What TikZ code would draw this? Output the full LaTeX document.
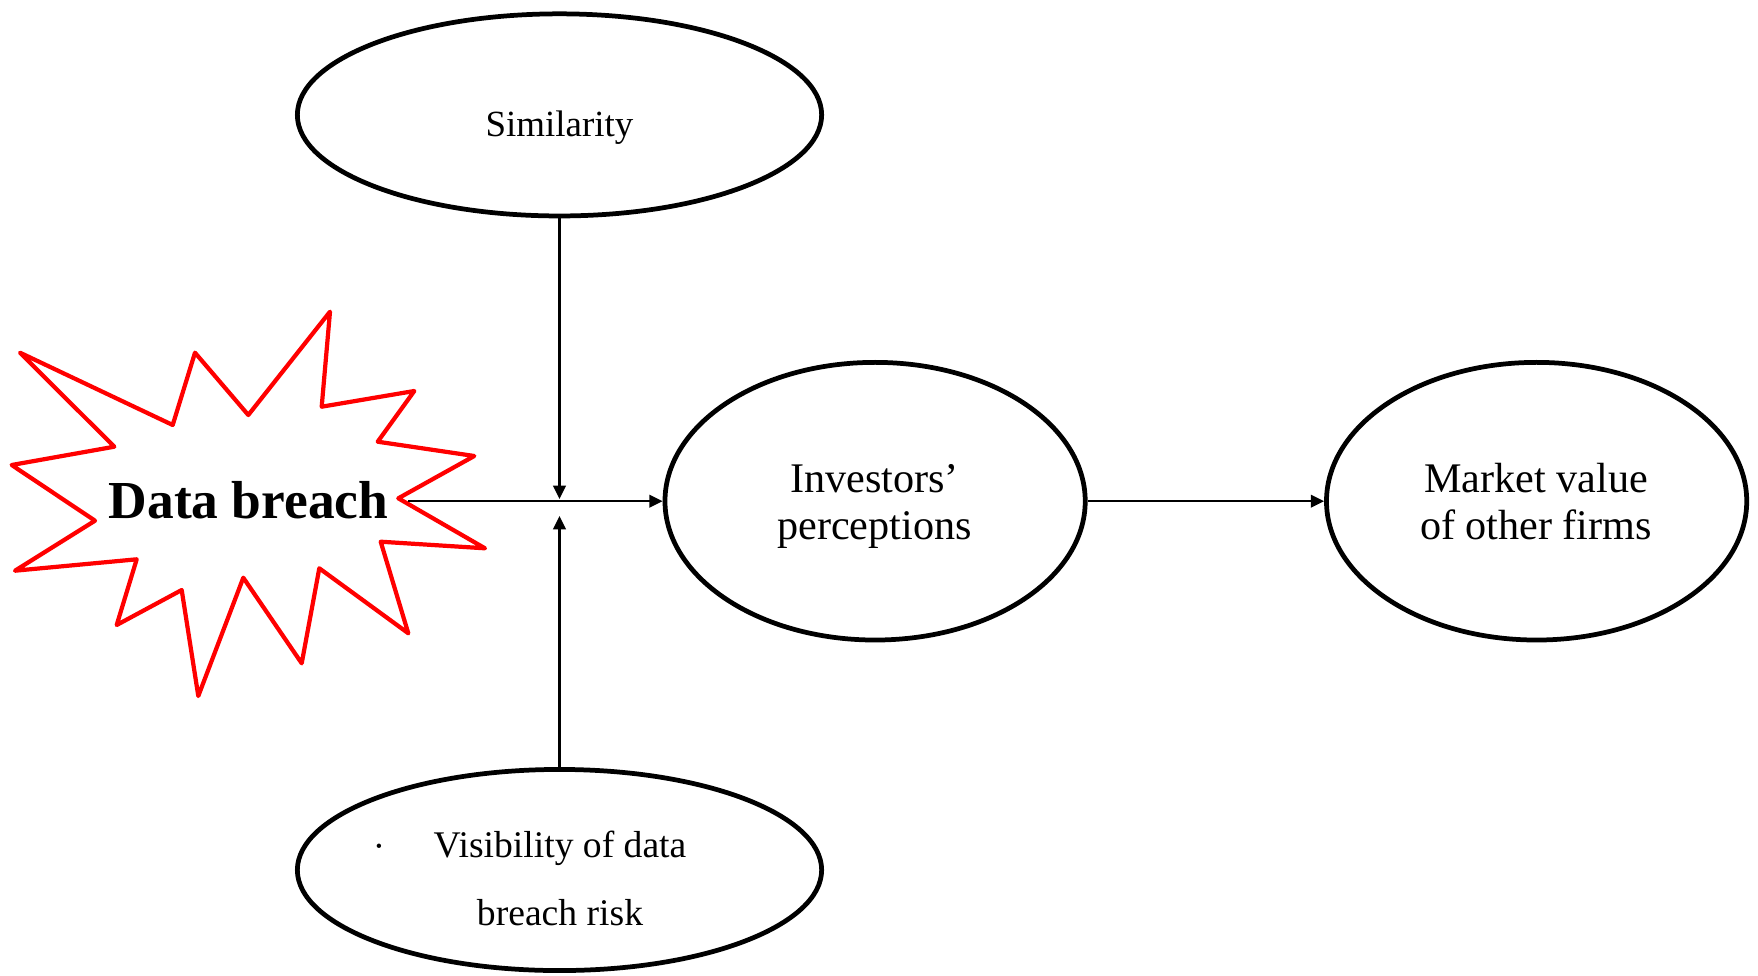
\documentclass[tikz,border=0pt]{standalone}
\usepackage{fontspec}
\setmainfont{Liberation Serif}
\usetikzlibrary{shapes.geometric,arrows.meta}
\tikzset{
  oval/.style={ellipse, draw=black, line width=1.35pt, fill=white, inner sep=0pt},
  conn/.style={draw=black, line width=0.6pt, -{Triangle[length=3.8pt,width=3.6pt]}},
  burst/.style={draw=red, line width=1.2pt, line join=round, fill=white},
  lbl/.style={anchor=base, inner sep=0pt, align=center}
}
\begin{document}
\begin{tikzpicture}[x=0.01cm,y=-0.01cm]
\useasboundingbox (0,0) rectangle (1758,976);
% burst shape
\draw[burst] (20,352.7) -- (172.7,425) -- (195,352.7) -- (248.3,415) -- (330,311.7)
  -- (321.7,406.7) -- (414.3,391) -- (377.7,441.7) -- (474.3,456) -- (398.3,498.3)
  -- (485,548.3) -- (380.7,541.7) -- (408.3,633.3) -- (319.3,568.3) -- (301.7,663.3)
  -- (243.3,577.7) -- (198.3,696) -- (181.7,590) -- (116.7,625) -- (136.7,559.3)
  -- (15,570.7) -- (95,520.7) -- (11.7,465) -- (114.3,446.7) -- cycle;
\node[lbl, font=\fontsize{15.2}{18}\selectfont\bfseries] (dbt) at (248.5,518.3) {Data breach};
% ellipses
\node[oval, minimum width=5.24cm, minimum height=2.02cm] (sim) at (559.5,114.9) {};
\node[oval, minimum width=4.20cm, minimum height=2.775cm] (inv) at (875.1,501.2) {};
\node[oval, minimum width=4.20cm, minimum height=2.775cm] (mkt) at (1536.6,501.2) {};
\node[oval, minimum width=5.24cm, minimum height=2.01cm] (vis) at (559.5,870) {};
% texts (base anchor = baseline of the last line)
\node[lbl, font=\fontsize{10.5}{12.6}\selectfont] (simt) at (559.5,136.7) {Similarity};
\node[lbl, font=\fontsize{12}{13.46}\selectfont] (invt) at (874.5,539.5) {Investors’\\perceptions};
\node[lbl, font=\fontsize{12}{13.46}\selectfont] (mktt) at (1536,539.5) {Market value\\of other firms};
\node[lbl, font=\fontsize{10.7}{19.06}\selectfont] (vist) at (560,925) {Visibility of data\\breach risk};
\node[lbl, font=\fontsize{10.5}{12.6}\selectfont] (vdot) at (379,858) {·};
% connectors
\coordinate (dbtip) at (408,501.2);
\coordinate (mtop) at (559.5,499);
\coordinate (mbot) at (559.5,516);
\draw[conn] (dbtip) -- (inv.west);
\draw[conn] (sim.south) -- (mtop);
\draw[conn] (vis.north) -- (mbot);
\draw[conn] (inv.east) -- (mkt.west);
\end{tikzpicture}
\end{document}
